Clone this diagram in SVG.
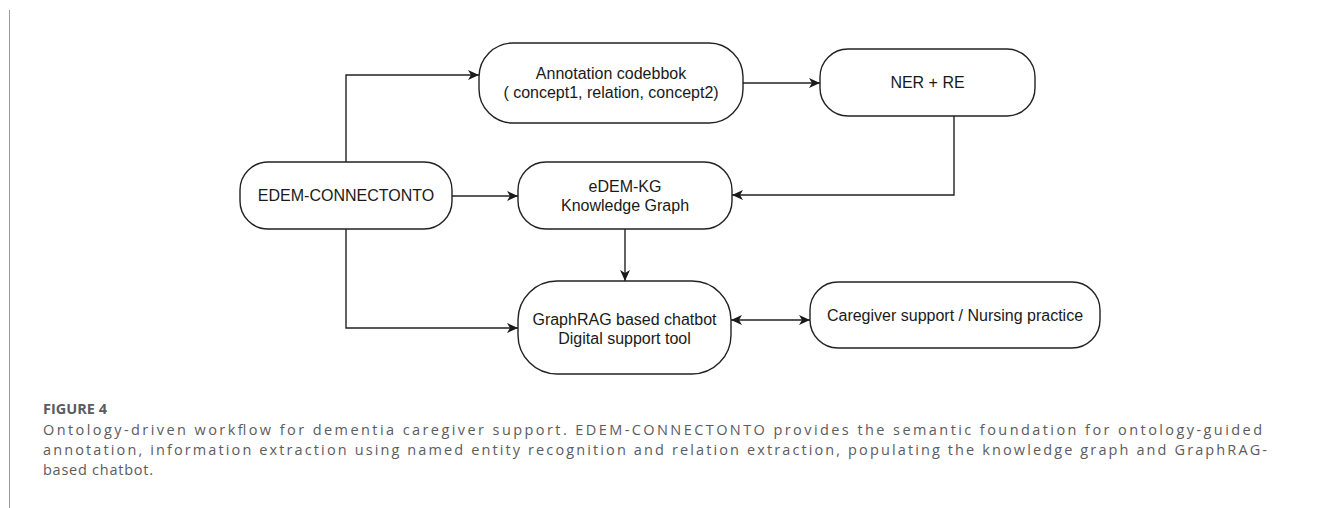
<svg xmlns="http://www.w3.org/2000/svg" width="1322" height="508" viewBox="0 0 1322 508">
  <defs>
    <linearGradient id="topline" x1="0" y1="0" x2="1" y2="0">
      <stop offset="0" stop-color="#9a9aa0"/>
      <stop offset="1" stop-color="#d4d4d8"/>
    </linearGradient>
    <marker id="arr" viewBox="0 0 11 10" refX="11" refY="5" markerWidth="11" markerHeight="10" markerUnits="userSpaceOnUse" orient="auto-start-reverse">
      <path d="M0,0 L11,5 L0,10 L3,5 z" fill="#1a1a1a"/>
    </marker>
    <style>
      .node rect { fill: #ffffff; stroke: #222222; stroke-width: 1.4; }
      .node text { font-family: "Liberation Sans", Arial, sans-serif; font-size: 16px; fill: #1a1a1a; text-anchor: middle; }
      .conn path { fill: none; stroke: #222222; stroke-width: 1.4; }
      .cap { font-family: "Open Sans", "Noto Sans", sans-serif; fill: #5b5b60; font-size: 14.5px; }
    </style>
  </defs>

  <rect x="0" y="0" width="1322" height="508" fill="#ffffff"/>
  <line x1="9" y1="10" x2="1322" y2="10" stroke="url(#topline)" stroke-width="2"/>
  <line x1="9.5" y1="10" x2="9.5" y2="508" stroke="#9a9a9e" stroke-width="1"/>

  <g id="connectors" class="conn">
    <path d="M346,162 V75 H479" marker-end="url(#arr)"/>
    <path d="M743,83 H820" marker-end="url(#arr)"/>
    <path d="M954,116 V195 H732" marker-end="url(#arr)"/>
    <path d="M452,196 H518" marker-end="url(#arr)"/>
    <path d="M625,229 V281" marker-end="url(#arr)"/>
    <path d="M346,229 V328 H518" marker-end="url(#arr)"/>
    <path d="M731,320 H810" marker-start="url(#arr)" marker-end="url(#arr)"/>
  </g>

  <g id="annotation" class="node">
    <rect x="479" y="43" width="264" height="80" rx="34" ry="34"/>
    <text x="611" y="79">Annotation codebbok</text>
    <text x="611" y="98">( concept1, relation, concept2)</text>
  </g>
  <g id="ner-re" class="node">
    <rect x="820" y="49" width="215" height="67" rx="28" ry="28"/>
    <text x="927.5" y="88">NER + RE</text>
  </g>
  <g id="edem-connectonto" class="node">
    <rect x="240" y="162" width="212" height="67" rx="28" ry="28"/>
    <text x="346" y="201">EDEM-CONNECTONTO</text>
  </g>
  <g id="edem-kg" class="node">
    <rect x="518" y="162" width="214" height="67" rx="28" ry="28"/>
    <text x="625" y="191.5">eDEM-KG</text>
    <text x="625" y="210.5">Knowledge Graph</text>
  </g>
  <g id="graphrag" class="node">
    <rect x="518" y="281" width="213" height="93" rx="39" ry="39"/>
    <text x="624.5" y="324.5">GraphRAG based chatbot</text>
    <text x="624.5" y="343.5">Digital support tool</text>
  </g>
  <g id="caregiver" class="node">
    <rect x="810" y="282" width="290" height="66" rx="28" ry="28"/>
    <text x="955" y="320.5">Caregiver support / Nursing practice</text>
  </g>

  <g id="caption">
    <text class="cap" x="43" y="414" font-size="13" font-weight="bold" fill="#6a6a70">FIGURE 4</text>
    <text class="cap" x="43" y="435" textLength="1219" lengthAdjust="spacing">Ontology-driven workflow for dementia caregiver support. EDEM-CONNECTONTO provides the semantic foundation for ontology-guided</text>
    <text class="cap" x="43" y="455" textLength="1224" lengthAdjust="spacing">annotation, information extraction using named entity recognition and relation extraction, populating the knowledge graph and GraphRAG-</text>
    <text class="cap" x="43" y="475" textLength="110" lengthAdjust="spacing">based chatbot.</text>
  </g>
</svg>
